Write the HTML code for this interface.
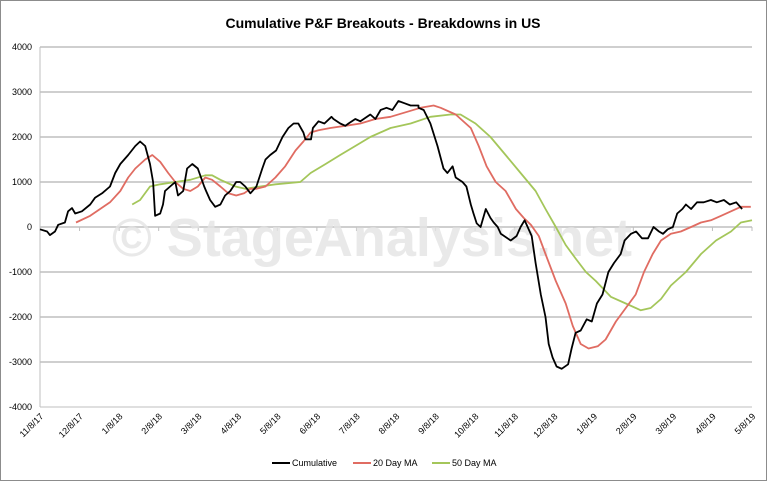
<!DOCTYPE html>
<html><head><meta charset="utf-8"><style>
body{margin:0;background:#fff;font-family:"Liberation Sans",sans-serif}
</style></head><body>
<svg id="c" width="767" height="481" xmlns="http://www.w3.org/2000/svg">
<rect x="0.5" y="0.5" width="766" height="480" fill="#fff" stroke="#8c8c8c"/>
<text x="383" y="28" text-anchor="middle" font-size="14" font-weight="bold" fill="#000">Cumulative P&amp;F Breakouts - Breakdowns in US</text>
<g id="grid"></g>
<text x="372" y="256" text-anchor="middle" font-size="54" font-weight="bold" fill="#e3e3e3" fill-opacity="0.8">© StageAnalysis.net</text>
<g id="series"></g>
<g>
<line x1="272" y1="463" x2="290" y2="463" stroke="#000" stroke-width="2"/>
<text x="292" y="466" font-size="9">Cumulative</text>
<line x1="353" y1="463" x2="371" y2="463" stroke="#e06c62" stroke-width="2"/>
<text x="373" y="466" font-size="9">20 Day MA</text>
<line x1="432" y1="463" x2="450" y2="463" stroke="#a4c65a" stroke-width="2"/>
<text x="452" y="466" font-size="9">50 Day MA</text>
</g>
</svg>
<script>
const xLabels=["11/8/17","12/8/17","1/8/18","2/8/18","3/8/18","4/8/18","5/8/18","6/8/18","7/8/18","8/8/18","9/8/18","10/8/18","11/8/18","12/8/18","1/8/19","2/8/19","3/8/19","4/8/19","5/8/19"];
const yTicks=[4000,3000,2000,1000,0,-1000,-2000,-3000,-4000];
const cumX=[0,0.18,0.25,0.38,0.46,0.63,0.71,0.81,0.89,1.06,1.27,1.39,1.57,1.77,1.9,2.03,2.23,2.41,2.53,2.66,2.78,2.86,2.91,3.04,3.11,3.16,3.29,3.42,3.49,3.62,3.72,3.85,3.99,4.15,4.2,4.3,4.43,4.56,4.68,4.81,4.96,5.06,5.19,5.32,5.47,5.62,5.7,5.82,5.97,6.13,6.28,6.41,6.53,6.66,6.71,6.85,6.9,7.04,7.19,7.37,7.42,7.59,7.72,7.8,7.97,8.1,8.35,8.48,8.61,8.76,8.91,9.06,9.22,9.37,9.57,9.57,9.7,9.87,10.05,10.2,10.3,10.43,10.51,10.68,10.78,10.89,10.96,11.04,11.14,11.27,11.39,11.47,11.57,11.65,11.9,12.05,12.15,12.25,12.43,12.53,12.66,12.78,12.86,12.96,13.06,13.19,13.35,13.44,13.54,13.67,13.82,13.95,14.08,14.22,14.37,14.51,14.68,14.78,14.94,15.07,15.22,15.37,15.51,15.65,15.75,15.87,16.0,16.11,16.24,16.33,16.46,16.61,16.78,16.96,17.11,17.29,17.44,17.6,17.75,17.89,18.0,18.08,18.0];
const cumV=[-50,-100,-180,-100,50,100,350,420,300,350,500,650,750,900,1200,1400,1600,1800,1900,1800,1400,1000,250,300,500,800,900,1000,700,800,1300,1400,1300,900,800,600,450,500,700,800,1000,1000,900,750,900,1300,1500,1600,1700,2000,2200,2300,2300,2100,1950,1950,2200,2350,2300,2450,2400,2300,2250,2300,2400,2350,2500,2400,2600,2650,2600,2800,2750,2700,2700,2650,2600,2300,1800,1300,1200,1350,1100,1000,900,500,300,80,0,400,200,100,0,-150,-300,-200,0,150,-200,-800,-1500,-2000,-2600,-2900,-3100,-3150,-3050,-2700,-2350,-2300,-2050,-2100,-1700,-1500,-1000,-800,-600,-300,-150,-100,-250,-250,0,-100,-150,-50,0,300,400,500,400,550,550,600,550,600,500,550,400];
const ma20X=[0.91,1.27,1.52,1.77,2.03,2.23,2.41,2.66,2.84,3.04,3.24,3.42,3.62,3.8,3.99,4.18,4.35,4.56,4.76,4.96,5.16,5.32,5.47,5.7,5.95,6.2,6.46,6.66,6.84,7.04,7.34,7.72,8.1,8.48,8.86,9.24,9.62,9.95,10.13,10.51,10.89,11.09,11.29,11.52,11.77,12.03,12.23,12.41,12.61,12.78,13.04,13.29,13.47,13.67,13.87,14.1,14.3,14.56,14.81,15.06,15.27,15.49,15.7,15.95,16.2,16.46,16.71,16.96,17.22,17.47,17.72,17.97];
const ma20V=[100,250,400,550,800,1100,1300,1500,1600,1450,1200,1000,850,800,900,1100,1050,900,750,700,750,850,850,900,1100,1350,1700,1900,2100,2150,2200,2250,2300,2400,2450,2550,2650,2700,2650,2500,2200,1800,1350,1000,800,400,200,50,-200,-600,-1200,-1700,-2200,-2600,-2700,-2650,-2500,-2100,-1800,-1500,-1000,-600,-300,-150,-100,0,100,150,250,350,450,450];
const ma50X=[2.33,2.53,2.78,3.04,3.42,3.8,4.18,4.35,4.56,4.94,5.19,5.57,5.95,6.58,6.84,7.22,7.59,7.97,8.35,8.86,9.37,9.87,10.38,10.63,11.01,11.39,11.77,12.15,12.53,12.78,13.04,13.29,13.54,13.8,14.05,14.43,14.81,15.19,15.44,15.7,15.95,16.33,16.71,17.09,17.47,17.72,18.0];
const ma50V=[500,600,900,950,1000,1050,1150,1150,1050,900,850,900,950,1000,1200,1400,1600,1800,2000,2200,2300,2450,2500,2500,2300,2000,1600,1200,800,400,0,-400,-700,-1000,-1200,-1550,-1700,-1850,-1800,-1600,-1300,-1000,-600,-300,-100,100,150];
const X0=40,X1=752,Y0=47,Y1=407,NM=18;
const xs=m=>X0+(X1-X0)*m/NM;
const ys=v=>Y0+(4000-v)/8000*(Y1-Y0);
const NS="http://www.w3.org/2000/svg";
const grid=document.getElementById('grid'),ser=document.getElementById('series');
function mk(t,a,p){const e=document.createElementNS(NS,t);for(const k in a)e.setAttribute(k,a[k]);p.appendChild(e);return e;}
yTicks.forEach(v=>{
 if(v!==-4000){const l=mk('line',{x1:X0,x2:X1,y1:ys(v),y2:ys(v),stroke:'#bfbfbf','stroke-width':1.5},grid);
 
 }
 const t=mk('text',{x:32,y:ys(v)+3,'text-anchor':'end','font-size':9},grid);t.textContent=v;
 
 
});
const ax=mk('line',{x1:X0,x2:X0,y1:Y0,y2:Y1,stroke:'#bfbfbf','stroke-width':1},grid);


const bx=mk('line',{x1:X0,x2:X1,y1:Y1,y2:Y1,stroke:'#bfbfbf','stroke-width':1},grid);


xLabels.forEach((s,i)=>{
 const x=xs(i);
 const tk=mk('line',{x1:x,x2:x,y1:ys(0),y2:ys(0)+4,stroke:'#bfbfbf'},grid);
 
 
 const t=mk('text',{x:x+4,y:Y1+10,'text-anchor':'end','font-size':9,transform:`rotate(-45 ${x+4} ${Y1+10})`},grid);t.textContent=s;
 
 
});
function line(X,V,col,name){
 const d=X.map((m,i)=>(i?'L':'M')+xs(m).toFixed(1)+','+ys(V[i]).toFixed(1)).join('');
 const p=mk('path',{d:d,fill:'none',stroke:col,'stroke-width':1.8,'stroke-linejoin':'round'},ser);
 
 
}
line(ma50X,ma50V,'#a4c65a','series-50-day-ma');
line(ma20X,ma20V,'#e06c62','series-20-day-ma');
line(cumX,cumV,'#000','series-cumulative');
</script>
</body></html>
